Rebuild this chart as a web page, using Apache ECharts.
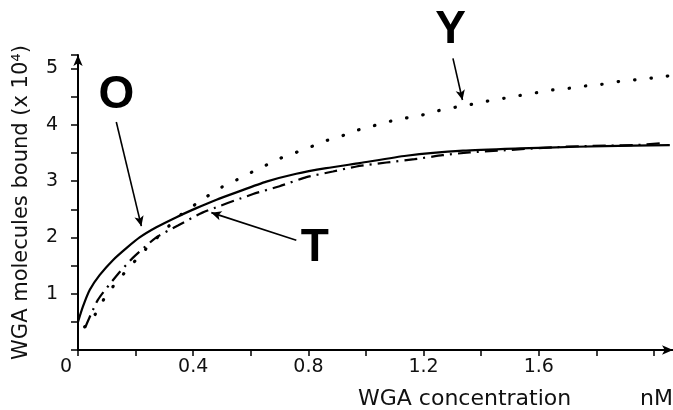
<!DOCTYPE html>
<html>
<head>
<meta charset="utf-8">
<script src="https://cdn.jsdelivr.net/npm/echarts@6/dist/echarts.min.js"></script>
<style>
html, body { margin: 0; padding: 0; background: #fff; }
#chart { width: 673px; height: 410px; }
</style>
</head>
<body>
<div id="chart"></div>
<script>
// values: x in nM, y in WGA molecules bound (x 10^4)
const oX = [0, 0.017, 0.041, 0.075, 0.122, 0.168, 0.214, 0.272, 0.342, 0.411, 0.481, 0.55, 0.654, 0.758, 0.862, 0.978, 1.14, 1.337, 1.534, 1.73, 1.927, 2.055]
const oY = [0.5, 0.77, 1.07, 1.33, 1.6, 1.81, 2.0, 2.18, 2.36, 2.52, 2.67, 2.8, 2.99, 3.13, 3.23, 3.32, 3.45, 3.54, 3.58, 3.61, 3.63, 3.64]

const tX = [0.025, 0.069, 0.139, 0.193, 0.272, 0.347, 0.432, 0.608, 0.7, 0.793, 0.885, 0.967, 1.071, 1.169, 1.266, 1.36, 1.457, 1.551, 1.648, 1.742, 1.839, 1.94, 2.037]
const tY = [0.4, 0.89, 1.35, 1.65, 2.0, 2.21, 2.44, 2.77, 2.91, 3.07, 3.17, 3.26, 3.33, 3.39, 3.46, 3.51, 3.54, 3.57, 3.6, 3.62, 3.63, 3.64, 3.68]

const yX = [0.023, 0.058, 0.087, 0.119, 0.156, 0.235, 0.313, 0.359, 0.446, 0.498, 0.55, 0.596, 0.648, 0.7, 0.752, 0.804, 0.863, 0.915, 0.967, 1.024, 1.082, 1.138, 1.192, 1.25, 1.308, 1.363, 1.42, 1.478, 1.534, 1.592, 1.649, 1.707, 1.763, 1.819, 1.878, 1.935, 1.992, 2.052]
const yY = [0.41, 0.62, 0.88, 1.11, 1.34, 1.79, 2.19, 2.41, 2.72, 2.89, 3.02, 3.14, 3.27, 3.4, 3.5, 3.6, 3.72, 3.8, 3.9, 3.98, 4.06, 4.12, 4.17, 4.25, 4.31, 4.36, 4.42, 4.47, 4.52, 4.57, 4.62, 4.65, 4.69, 4.72, 4.77, 4.8, 4.83, 4.87]

const xTickLabels = ['0', '0.4', '0.8', '1.2', '1.6']
const yTickLabels = ['1', '2', '3', '4', '5']

// curve labels and their arrows (data coords)
const curveNames = ['O', 'T', 'Y']
const labelPos = [[0.133, 4.53], [0.822, 1.81], [1.294, 5.68]]
const arrowFrom = [[0.133, 4.05], [0.758, 1.95], [1.302, 5.18]]
const arrowTo = [[0.22, 2.2], [0.463, 2.44], [1.335, 4.44]]

function pairs(xs, ys) {
    return xs.map((x, i) => [x, ys[i]])
}

const axisFont = 'DejaVu Sans, sans-serif'

let chart = echarts.init(document.getElementById('chart'))
chart.setOption({
    animation: false,
    backgroundColor: '#fff',
    grid: {
        left: 78,
        right: 0,
        top: 55,
        bottom: 60
    },
    xAxis: {
        type: 'value',
        min: 0,
        max: 2.066,
        interval: 0.2,
        splitLine: { show: false },
        axisLine: {
            lineStyle: { color: '#000', width: 2 },
            symbol: ['none', 'arrow'],
            symbolSize: [7, 11]
        },
        axisTick: {
            show: true,
            length: 6,
            lineStyle: { color: '#000', width: 1.5 }
        },
        axisLabel: {
            margin: 8,
            color: '#111',
            fontFamily: axisFont,
            fontSize: 19,
            showMaxLabel: false,
            formatter: function (v) {
                let s = String(Math.round(v * 10) / 10)
                if (s === '0') return '{z|0}'
                return xTickLabels.indexOf(s) >= 0 ? s : ''
            },
            rich: {
                z: { fontFamily: axisFont, fontSize: 19, color: '#111', padding: [0, 24, 0, 0] }
            }
        }
    },
    yAxis: {
        type: 'value',
        min: 0,
        max: 5.24,
        interval: 0.5,
        name: 'WGA molecules bound (x 10⁴)',
        nameLocation: 'middle',
        nameRotate: 90,
        nameGap: 46,
        nameTextStyle: {
            fontFamily: axisFont,
            fontSize: 21,
            color: '#111'
        },
        splitLine: { show: false },
        axisLine: {
            show: true,
            lineStyle: { color: '#000', width: 2 },
            symbol: ['none', 'arrow'],
            symbolSize: [7, 11]
        },
        axisTick: {
            show: true,
            length: 7,
            lineStyle: { color: '#000', width: 1.5 }
        },
        axisLabel: {
            margin: 20,
            color: '#111',
            fontFamily: axisFont,
            fontSize: 19,
            formatter: function (v) {
                let s = String(Math.round(v * 10) / 10)
                return yTickLabels.indexOf(s) >= 0 ? s : ''
            }
        }
    },
    series: [
        {
            name: 'O',
            type: 'line',
            data: pairs(oX, oY),
            showSymbol: false,
            smooth: 0.2,
            silent: true,
            lineStyle: { color: '#000', width: 2.2 },
            markLine: {
                silent: true,
                symbol: ['none', 'arrow'],
                symbolSize: [7, 10],
                label: { show: false },
                lineStyle: { color: '#000', width: 1.6, type: 'solid' },
                data: curveNames.map((n, i) => [
                    { coord: arrowFrom[i] },
                    { coord: arrowTo[i] }
                ])
            }
        },
        {
            name: 'T',
            type: 'line',
            data: pairs(tX, tY),
            showSymbol: false,
            smooth: 0.2,
            silent: true,
            lineStyle: { color: '#000', width: 2.2, type: [13, 6, 2, 6] }
        },
        {
            name: 'Y',
            type: 'line',
            data: pairs(yX, yY),
            showSymbol: false,
            smooth: 0.2,
            silent: true,
            lineStyle: { color: '#000', width: 3.2, type: [0.5, 16], cap: 'round' }
        }
    ]
})

// big curve letters, placed through the chart's own scales (Y sits above the axis range)
let letters = curveNames.map((n, i) => {
    let p = chart.convertToPixel({ gridIndex: 0 }, labelPos[i])
    return {
        type: 'text',
        x: p[0],
        y: p[1],
        silent: true,
        style: {
            text: n,
            align: 'center',
            verticalAlign: 'middle',
            font: 'bold 46px Liberation Sans, Arial, sans-serif',
            fill: '#000'
        }
    }
})

let titles = [
    {
        type: 'text',
        left: 358,
        top: 388,
        silent: true,
        style: { text: 'WGA concentration', font: '22px DejaVu Sans', fill: '#111' }
    },
    {
        type: 'text',
        right: 0,
        top: 388,
        silent: true,
        style: { text: 'nM', font: '22px DejaVu Sans', fill: '#111' }
    }
]

chart.setOption({ graphic: titles.concat(letters) })
</script>
</body>
</html>
